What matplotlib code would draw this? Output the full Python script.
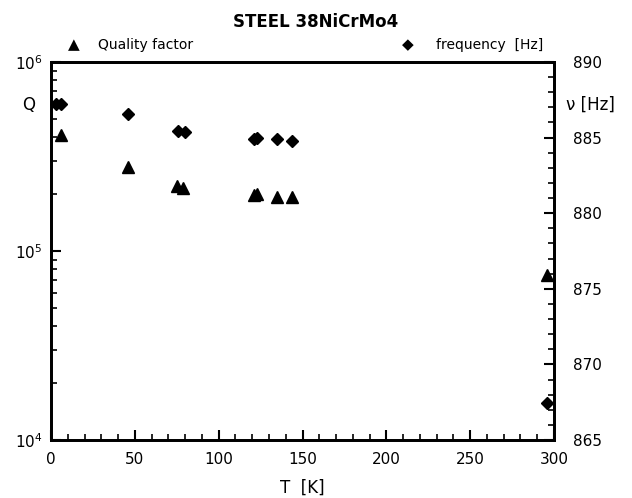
import matplotlib
matplotlib.use("Agg")
import matplotlib.pyplot as plt
from matplotlib.ticker import MultipleLocator, LogLocator, NullFormatter, FixedLocator

# data
T_q = [6, 46, 75, 79, 121, 123, 135, 144, 296]
Q = [4.1e5, 2.78e5, 2.2e5, 2.15e5, 1.97e5, 2.0e5, 1.93e5, 1.92e5, 7.5e4]

T_f = [3, 6, 46, 76, 80, 121, 123, 135, 144, 296]
freq = [887.2, 887.2, 886.55, 885.45, 885.4, 884.9, 884.95, 884.9, 884.8, 867.45]

x_ticks = [0, 50, 100, 150, 200, 250, 300]
f_ticks = [865, 870, 875, 880, 885, 890]

plt.rcParams['font.family'] = ['DejaVu Sans']

fig = plt.figure(figsize=(6.32, 4.98), dpi=100)
ax = fig.add_axes([0.0807, 0.1165, 0.7959, 0.759])
ax2 = ax.twinx()

ax.plot(T_q, Q, linestyle='none', marker='^', color='black', markersize=8, clip_on=False)
ax2.plot(T_f, freq, linestyle='none', marker='D', color='black', markersize=6, clip_on=False)

ax.set_xlim(0, 300)
ax.set_yscale('log')
ax.set_ylim(1e4, 1e6)
ax2.set_ylim(865, 890)

ax.set_xticks(x_ticks)
ax.xaxis.set_minor_locator(MultipleLocator(10))
ax.yaxis.set_major_locator(FixedLocator([1e4, 1e5, 1e6]))
ax.yaxis.set_minor_locator(LogLocator(base=10, subs=range(2, 10)))
ax.yaxis.set_minor_formatter(NullFormatter())
ax2.set_yticks(f_ticks)
ax2.yaxis.set_minor_locator(MultipleLocator(1))

for a in (ax, ax2):
    a.tick_params(which='major', direction='in', length=7, width=1.5, labelsize=11)
    a.tick_params(which='minor', direction='in', length=4, width=1.2)
    for s in a.spines.values():
        s.set_linewidth(2)
ax.tick_params(axis='x', pad=9)
ax.tick_params(axis='y', pad=6)
ax2.tick_params(axis='y', pad=14)

ax.set_xlabel('T  [K]', fontsize=12, labelpad=8)
fig.text(0.045, 0.79, 'Q', fontsize=12, ha='center', va='center')
fig.text(0.935, 0.79, 'ν [Hz]', fontsize=12, ha='center', va='center')

fig.text(0.5, 0.955, 'STEEL 38NiCrMo4', fontsize=12, fontweight='bold', ha='center', va='center')
fig.text(0.117, 0.91, '▲', fontsize=11, ha='center', va='center')
fig.text(0.155, 0.91, 'Quality factor', fontsize=10, ha='left', va='center')
fig.text(0.646, 0.91, '◆', fontsize=11, ha='center', va='center')
fig.text(0.69, 0.91, 'frequency  [Hz]', fontsize=10, ha='left', va='center')

fig.savefig('out.png', dpi=100)
